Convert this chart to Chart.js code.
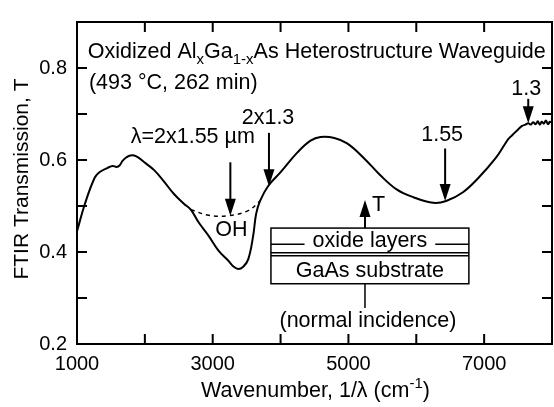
<!DOCTYPE html>
<html>
<head>
<meta charset="utf-8">
<script src="https://cdn.jsdelivr.net/npm/chart.js@4.4.1/dist/chart.umd.min.js"></script>
<style>
html, body { margin: 0; padding: 0; background: #fff; overflow: hidden; }
canvas { display: block; }
</style>
</head>
<body>
<canvas id="chart" width="560" height="407"></canvas>
<script>
// Spectre FTIR (nombre d'onde en cm-1, transmission T)
const wavenumber = [1000, 1117, 1262, 1335, 1452, 1525, 1583, 1627, 1671, 1729, 1788, 1875, 1992,
  2137, 2283, 2429, 2575, 2677, 2794, 2940, 3085, 3231, 3310, 3377, 3450, 3523, 3596, 3640, 3698, 3815, 4004,
  4252, 4442, 4588, 4792, 4981, 5229, 5462, 5710, 5958, 6250, 6440, 6688, 6921, 7169, 7300, 7358,
  7420, 7504, 7560, 7610, 7650, 7690, 7720, 7760, 7790, 7820, 7850, 7880, 7910, 7940, 7970, 8000];
const transmission = [0.445, 0.505, 0.562, 0.574, 0.583, 0.587, 0.585, 0.588, 0.598, 0.606, 0.610, 0.608, 0.595,
  0.578, 0.553, 0.526, 0.505, 0.492, 0.464, 0.435, 0.403, 0.381, 0.368, 0.363, 0.368, 0.384, 0.435, 0.483, 0.511, 0.543, 0.574,
  0.617, 0.642, 0.650, 0.648, 0.636, 0.604, 0.568, 0.536, 0.519, 0.507, 0.511, 0.530, 0.562, 0.604, 0.633, 0.646,
  0.655, 0.667, 0.674, 0.677, 0.680, 0.677, 0.682, 0.678, 0.684, 0.677, 0.683, 0.679, 0.686, 0.678, 0.683, 0.681];

// Ligne de base (tirets) sous la bande OH
const ohWavenumber = [2677, 2940, 3231, 3523, 3698];
const ohBaseline = [0.492, 0.480, 0.479, 0.490, 0.511];

// Graduations étiquetées
const xLabeled = [1000, 3000, 5000, 7000];
const yLabeled = [0.2, 0.4, 0.6, 0.8];

const FONT = '"Liberation Sans", Arial, Helvetica, sans-serif';
const TXT = 21.5;

function toPoints(xs, ys) {
  return xs.map((x, i) => ({ x: x, y: ys[i] }));
}

// texte avec indices / exposants
function richText(ctx, parts, x, y, size, align) {
  let total = 0;
  parts.forEach(p => {
    ctx.font = (p.sub || p.sup ? Math.round(size * 0.7) : size) + 'px ' + FONT;
    p.w = ctx.measureText(p.t).width;
    total += p.w;
  });
  let cx = align === 'center' ? x - total / 2 : x;
  parts.forEach(p => {
    ctx.font = (p.sub || p.sup ? Math.round(size * 0.7) : size) + 'px ' + FONT;
    let dy = p.sub ? size * 0.3 : (p.sup ? -size * 0.42 : 0);
    ctx.fillText(p.t, cx, y + dy);
    cx += p.w;
  });
}

function arrow(ctx, X, y1, y2) {
  const dir = y2 > y1 ? 1 : -1;
  ctx.lineWidth = 2;
  ctx.beginPath();
  ctx.moveTo(X, y1);
  ctx.lineTo(X, y2 - dir * 12);
  ctx.stroke();
  ctx.beginPath();
  ctx.moveTo(X, y2);
  ctx.lineTo(X - 5.5, y2 - dir * 17);
  ctx.lineTo(X + 5.5, y2 - dir * 17);
  ctx.closePath();
  ctx.fill();
}

const decorations = {
  id: 'decorations',
  afterDraw(chart) {
    const ctx = chart.ctx;
    const a = chart.chartArea;
    const xs = chart.scales.x, ys = chart.scales.y;
    const px = v => xs.getPixelForValue(v);
    const py = v => ys.getPixelForValue(v);
    ctx.save();
    ctx.strokeStyle = '#000';
    ctx.fillStyle = '#000';
    ctx.lineWidth = 2;
    ctx.lineCap = 'butt';

    // cadre + graduations vers l'intérieur
    ctx.strokeRect(a.left, a.top, a.right - a.left, a.bottom - a.top);
    ctx.beginPath();
    xs.ticks.forEach(t => {
      const X = px(t.value);
      ctx.moveTo(X, a.bottom); ctx.lineTo(X, a.bottom - 10);
      ctx.moveTo(X, a.top); ctx.lineTo(X, a.top + 10);
    });
    ys.ticks.forEach(t => {
      const Y = py(t.value);
      ctx.moveTo(a.left, Y); ctx.lineTo(a.left + 10, Y);
      ctx.moveTo(a.right, Y); ctx.lineTo(a.right - 10, Y);
    });
    ctx.stroke();

    // titres des axes
    ctx.textAlign = 'left';
    ctx.textBaseline = 'alphabetic';
    richText(ctx, [{ t: 'Wavenumber, 1/\u03bb (cm' }, { t: '-1', sup: true }, { t: ')' }],
      (a.left + a.right) / 2 + 1, 397, TXT, 'center');
    ctx.save();
    ctx.translate(28, (a.top + a.bottom) / 2 - 4);
    ctx.rotate(-Math.PI / 2);
    ctx.font = '21px ' + FONT;
    ctx.textAlign = 'center';
    ctx.fillText('FTIR Transmission, T', 0, 0);
    ctx.restore();

    // légendes dans le graphique
    ctx.textAlign = 'left';
    richText(ctx, [{ t: 'Oxidized Al' }, { t: 'x', sub: true }, { t: 'Ga' }, { t: '1-x', sub: true },
      { t: 'As Heterostructure Waveguide' }], px(1160), py(0.822), TXT, 'left');
    richText(ctx, [{ t: '(493 \u00b0C, 262 min)' }], px(1175), py(0.754), TXT, 'left');

    richText(ctx, [{ t: '\u03bb=2x1.55 \u00b5m' }], px(2706), py(0.638), TXT, 'center');
    arrow(ctx, px(3260), py(0.595), py(0.479));
    richText(ctx, [{ t: 'OH' }], px(3275), py(0.435), TXT, 'center');

    richText(ctx, [{ t: '2x1.3' }], px(3815), py(0.678), TXT, 'center');
    arrow(ctx, px(3829), py(0.659), py(0.543));

    richText(ctx, [{ t: '1.55' }], px(6381), py(0.642), TXT, 'center');
    arrow(ctx, px(6425), py(0.625), py(0.511));

    richText(ctx, [{ t: '1.3' }], px(7621), py(0.741), TXT, 'center');
    arrow(ctx, px(7650), py(0.733), py(0.680));

    // encart : structure de l'échantillon
    const bl = px(3858), br = px(6775);
    const bt = py(0.452), bm = py(0.395), bb = py(0.331);
    const bc = (bl + br) / 2;
    ctx.fillStyle = '#fff';
    ctx.fillRect(bl, bt, br - bl, bb - bt);
    ctx.fillStyle = '#000';
    ctx.lineWidth = 1.5;
    ctx.strokeRect(bl, bt, br - bl, bb - bt);
    ctx.beginPath();
    ctx.moveTo(bl, bm - 1.5); ctx.lineTo(br, bm - 1.5);
    ctx.moveTo(bl, bm + 1.5); ctx.lineTo(br, bm + 1.5);
    ctx.stroke();
    ctx.font = TXT + 'px ' + FONT;
    const ow = ctx.measureText('oxide layers').width;
    const ly = (bt + bm) / 2 + 3;
    ctx.beginPath();
    ctx.moveTo(bl, ly); ctx.lineTo(bc - ow / 2 - 8, ly);
    ctx.moveTo(bc + ow / 2 + 8, ly); ctx.lineTo(br, ly);
    ctx.stroke();
    ctx.textAlign = 'center';
    ctx.fillText('oxide layers', bc, ly + 3);
    ctx.fillText('GaAs substrate', bc, bb - 7);
    ctx.fillText('(normal incidence)', bc - 2, py(0.236));

    const ax = px(5244);
    ctx.lineWidth = 1.5;
    ctx.beginPath();
    ctx.moveTo(ax, bb); ctx.lineTo(ax, py(0.278));
    ctx.stroke();
    arrow(ctx, ax, bt, py(0.513));
    ctx.textAlign = 'left';
    ctx.fillText('T', px(5346), py(0.490));
    ctx.restore();
  }
};

new Chart(document.getElementById('chart'), {
  type: 'line',
  data: {
    datasets: [
      {
        label: 'T',
        data: toPoints(wavenumber, transmission),
        borderColor: '#000',
        borderWidth: 2,
        pointRadius: 0,
        tension: 0.4,
        fill: false
      },
      {
        label: 'OH baseline',
        data: toPoints(ohWavenumber, ohBaseline),
        borderColor: '#000',
        borderWidth: 1.5,
        borderDash: [4, 4],
        pointRadius: 0,
        tension: 0.4,
        fill: false
      }
    ]
  },
  options: {
    responsive: false,
    animation: false,
    events: [],
    layout: { padding: { top: 13, right: 3, left: 0, bottom: 0 } },
    plugins: { legend: { display: false }, tooltip: { enabled: false }, title: { display: false } },
    scales: {
      x: {
        type: 'linear',
        min: 1000,
        max: 8000,
        grid: { display: false, drawTicks: false },
        border: { display: false },
        afterFit: s => { s.height = 63; },
        ticks: {
          stepSize: 1000,
          autoSkip: false,
          maxRotation: 0,
          padding: 8,
          color: '#000',
          font: { family: FONT, size: 20 },
          callback: v => xLabeled.includes(v) ? String(v) : ''
        }
      },
      y: {
        min: 0.2,
        max: 0.9,
        grid: { display: false, drawTicks: false },
        border: { display: false },
        afterFit: s => { s.width = 77; },
        ticks: {
          stepSize: 0.1,
          autoSkip: false,
          padding: 10,
          color: '#000',
          font: { family: FONT, size: 20 },
          callback: v => yLabeled.some(t => Math.abs(t - v) < 1e-6) ? v.toFixed(1) : ''
        }
      }
    }
  },
  plugins: [decorations]
});
</script>
</body>
</html>
